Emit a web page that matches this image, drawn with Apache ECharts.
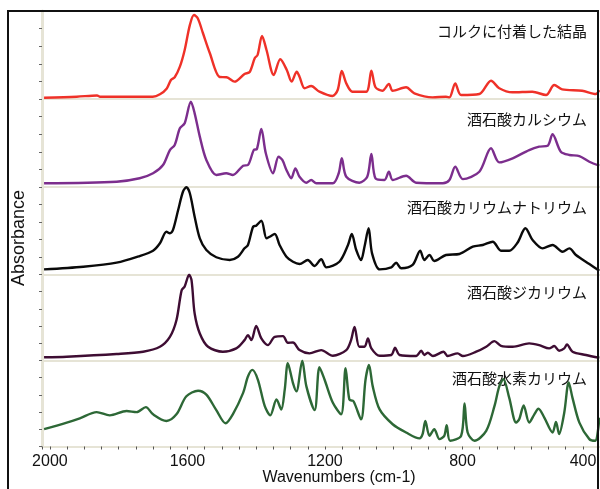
<!DOCTYPE html>
<html lang="ja">
<head>
    <meta charset="UTF-8">
    <title>IR spectra</title>
    <script src="https://cdn.jsdelivr.net/npm/echarts@6/dist/echarts.min.js"></script>
</head>
<body style="margin:0;background:#fff;">
<div id="main" style="width:600px;height:489px;"></div>
<script>
    // 波数 (cm-1) と吸光度 (各パネル 0-1 に正規化)
    const redWn  = [2017,1922,1863,1855,1701,1680,1660,1648,1637,1622,1608,1593,1581,1570,1555,1535,1506,1486,1463,1434,1419,1404,1396,1383,1370,1349,1330,1311,1297,1282,1274,1259,1240,1216,1178,1163,1151,1138,1120,1080,1065,1053,1033,1014,1003,964,940,887,848,838,821,804,751,717,693,655,597,557,533,510,452,412,402];
    const redAbs = [0.015,0.026,0.04,0.026,0.026,0.053,0.12,0.216,0.247,0.367,0.557,0.84,0.955,0.917,0.75,0.523,0.25,0.247,0.197,0.284,0.307,0.466,0.5,0.716,0.557,0.273,0.451,0.33,0.197,0.31,0.253,0.122,0.148,0.083,0.034,0.102,0.318,0.178,0.083,0.083,0.322,0.133,0.094,0.17,0.094,0.133,0.065,0.019,0.026,0.019,0.178,0.045,0.057,0.208,0.122,0.076,0.083,0.045,0.159,0.11,0.094,0.057,0.102];

    const purpleWn  = [2017,1806,1739,1700,1671,1651,1637,1622,1608,1590,1579,1564,1545,1516,1487,1468,1438,1424,1407,1398,1385,1372,1351,1335,1324,1312,1298,1286,1274,1254,1240,1225,1177,1160,1151,1138,1100,1077,1065,1053,1027,1014,1003,964,935,857,838,821,799,751,717,693,654,606,577,552,538,514,489,460,431,402];
    const purpleAbs = [0.042,0.06,0.099,0.156,0.25,0.42,0.477,0.667,0.724,0.969,0.837,0.572,0.307,0.136,0.156,0.136,0.242,0.25,0.42,0.432,0.659,0.383,0.156,0.344,0.307,0.193,0.099,0.212,0.117,0.049,0.08,0.042,0.042,0.156,0.326,0.117,0.049,0.117,0.375,0.099,0.08,0.174,0.08,0.128,0.049,0.042,0.08,0.23,0.09,0.174,0.44,0.28,0.326,0.42,0.458,0.47,0.599,0.401,0.364,0.352,0.287,0.242];

    const blackWn  = [2017,1903,1806,1739,1700,1680,1661,1651,1642,1627,1613,1603,1593,1579,1564,1545,1516,1477,1453,1434,1424,1409,1400,1385,1370,1361,1346,1332,1312,1293,1274,1250,1230,1211,1196,1158,1133,1122,1109,1095,1085,1073,1063,1041,1007,993,978,945,923,911,896,882,848,809,770,741,712,688,664,640,617,596,567,538,509,489,470,431,402];
    const blackAbs = [0.059,0.089,0.135,0.211,0.272,0.357,0.489,0.471,0.509,0.737,0.946,0.997,0.928,0.661,0.414,0.28,0.197,0.166,0.203,0.299,0.337,0.546,0.558,0.615,0.414,0.432,0.463,0.337,0.203,0.146,0.12,0.166,0.097,0.174,0.082,0.146,0.337,0.463,0.28,0.166,0.318,0.528,0.242,0.059,0.082,0.135,0.071,0.109,0.272,0.166,0.223,0.154,0.223,0.234,0.318,0.337,0.375,0.272,0.272,0.363,0.528,0.394,0.299,0.337,0.26,0.299,0.223,0.12,0.043];

    const maroonWn  = [2017,1951,1806,1729,1680,1651,1632,1617,1608,1595,1588,1579,1564,1540,1497,1458,1434,1424,1414,1400,1385,1366,1346,1322,1308,1293,1274,1245,1211,1177,1138,1124,1114,1100,1085,1075,1065,1041,1007,996,983,935,920,911,901,886,855,843,814,799,760,731,707,688,654,606,577,548,533,519,504,496,480,441,402];
    const maroonAbs = [0.037,0.044,0.075,0.102,0.16,0.275,0.468,0.815,0.861,0.997,0.931,0.546,0.314,0.16,0.102,0.141,0.237,0.295,0.237,0.402,0.257,0.179,0.275,0.283,0.206,0.21,0.121,0.083,0.121,0.055,0.121,0.237,0.391,0.16,0.16,0.257,0.141,0.055,0.064,0.148,0.064,0.052,0.113,0.064,0.09,0.052,0.102,0.052,0.083,0.052,0.102,0.16,0.225,0.171,0.16,0.199,0.179,0.141,0.168,0.113,0.141,0.187,0.102,0.064,0.032];

    const greenWn  = [2017,1951,1913,1864,1826,1777,1748,1721,1700,1661,1632,1603,1569,1545,1516,1489,1468,1438,1424,1411,1395,1375,1359,1341,1327,1317,1308,1293,1283,1266,1254,1230,1216,1201,1177,1153,1140,1129,1117,1095,1082,1072,1061,1041,1003,964,925,916,908,896,882,867,853,846,836,804,794,785,765,731,707,693,681,664,644,635,622,606,591,579,562,538,528,519,504,491,480,460,431,414,402];
    const greenAbs = [0.201,0.278,0.328,0.4,0.362,0.412,0.4,0.458,0.374,0.297,0.374,0.584,0.649,0.603,0.423,0.27,0.374,0.623,0.814,0.891,0.776,0.469,0.362,0.546,0.431,0.661,0.968,0.738,0.641,0.998,0.699,0.423,0.922,0.776,0.508,0.374,0.91,0.546,0.526,0.316,0.776,0.948,0.699,0.431,0.259,0.163,0.094,0.144,0.297,0.124,0.201,0.086,0.124,0.247,0.067,0.124,0.5,0.163,0.067,0.182,0.469,0.699,0.784,0.566,0.278,0.316,0.477,0.278,0.374,0.439,0.336,0.163,0.285,0.144,0.393,0.745,0.566,0.278,0.086,0.067,0.336];

    const names = ['コルクに付着した結晶', '酒石酸カルシウム', '酒石酸カリウムナトリウム', '酒石酸ジカリウム', '酒石酸水素カリウム'];
    const xTickLabels = [2000, 1600, 1200, 800, 400];

    const spectra = [
        {wn: redWn, abs: redAbs, color: '#ef3128'},
        {wn: purpleWn, abs: purpleAbs, color: '#7c2e8d'},
        {wn: blackWn, abs: blackAbs, color: '#0a0a0a'},
        {wn: maroonWn, abs: maroonAbs, color: '#3e0d33'},
        {wn: greenWn, abs: greenAbs, color: '#2d6836'}
    ];

    // パネル配置
    const tops = [11, 99, 187, 274.5, 360.5];
    const heights = [88, 88, 87.5, 86, 86];
    const beige = '#e6e4d6';
    const font = '"Liberation Sans", Arial, sans-serif';
    const jpFont = '"Noto Sans CJK JP", sans-serif';

    let grid = [], xAxis = [], yAxis = [], series = [], graphic = [];
    spectra.forEach((s, i) => {
        const last = i === spectra.length - 1;
        grid.push({left: 42, right: 0, top: tops[i], height: heights[i]});
        xAxis.push({
            type: 'value', gridIndex: i, inverse: true,
            min: 400, max: 2023, interval: 50,
            axisLine: {show: true, lineStyle: {color: beige, width: 2}},
            axisTick: {show: last, length: 3, lineStyle: {color: '#555'}},
            axisLabel: {
                show: last, margin: 7, fontSize: 16, color: '#111', fontFamily: font,
                showMinLabel: true, showMaxLabel: true,
                formatter: v => xTickLabels.indexOf(v) < 0 ? '' : (v === 400 ? '{r|400}' : String(v)),
                rich: {r: {fontSize: 16, color: '#111', fontFamily: font, padding: [0, 34, 0, 0]}}
            },
            splitLine: {show: false}
        });
        yAxis.push({
            type: 'value', gridIndex: i, min: 0, max: 1, interval: 0.2,
            axisLine: {show: true, lineStyle: {color: beige, width: 3}},
            axisTick: {show: true, length: 3, lineStyle: {color: '#666'}},
            axisLabel: {show: false},
            splitLine: {show: false}
        });
        series.push({
            type: 'line', xAxisIndex: i, yAxisIndex: i,
            data: s.wn.map((w, k) => [w, s.abs[k]]),
            symbol: 'none', smooth: 0.3,
            lineStyle: {color: s.color, width: 2.4}
        });
        graphic.push({
            type: 'text', x: 587, y: tops[i] + (i < 3 ? 20 : 17.5),
            style: {text: names[i], font: '15px ' + jpFont, fill: '#111',
                    textAlign: 'right', textVerticalAlign: 'middle'}
        });
    });

    graphic.push({
        type: 'text', x: 19.5, y: 238, rotation: Math.PI / 2,
        style: {text: 'Absorbance', font: '18px ' + font, fill: '#111',
                textAlign: 'center', textVerticalAlign: 'middle'}
    });
    graphic.push({
        type: 'text', x: 339, y: 478,
        style: {text: 'Wavenumbers (cm-1)', font: '16px ' + font, fill: '#111',
                textAlign: 'center', textVerticalAlign: 'middle'}
    });
    // 外枠
    graphic.push({
        type: 'rect', z: 100,
        shape: {x: 8, y: 11, width: 590, height: 490},
        style: {fill: 'none', stroke: '#111', lineWidth: 2}
    });

    const chart = echarts.init(document.getElementById('main'));
    chart.setOption({
        animation: false,
        grid: grid,
        xAxis: xAxis,
        yAxis: yAxis,
        series: series,
        graphic: graphic
    });
</script>
</body>
</html>
